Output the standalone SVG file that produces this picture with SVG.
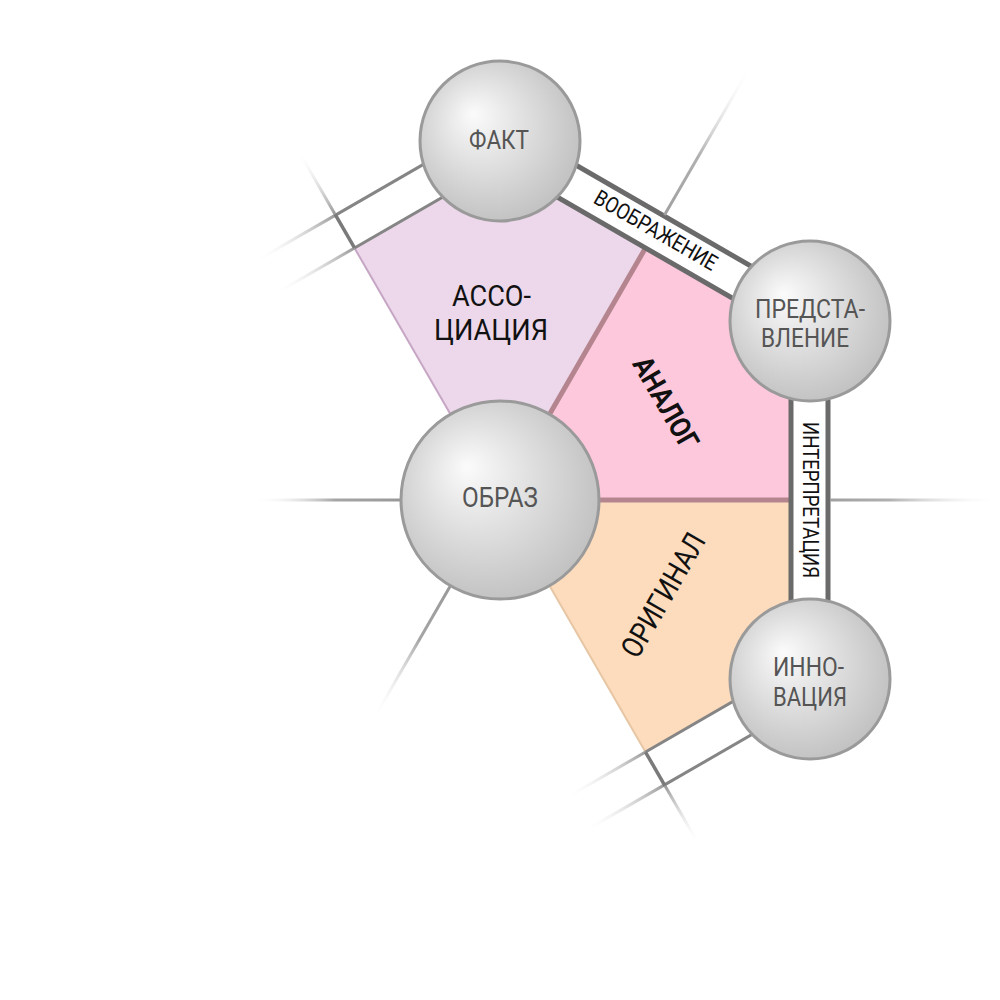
<svg xmlns="http://www.w3.org/2000/svg" width="1000" height="1000" viewBox="0 0 1000 1000">
<style>
  .ball { fill: url(#ball); stroke: #9a9a9a; stroke-width: 3; }
  .nlabel { font-family: Roboto, "Liberation Sans", sans-serif; fill: #555; text-anchor: middle; }
  .slabel { font-family: Roboto, "Liberation Sans", sans-serif; fill: #111; text-anchor: middle; }
  .blabel { font-family: Roboto, "Liberation Sans", sans-serif; fill: #111; text-anchor: middle; font-size: 22px; }
  .dark { stroke: #6a6a6a; stroke-width: 5; }
  .light { stroke: #858585; stroke-width: 3; }
  .ray { stroke-width: 3; fill: none; }
</style>
<defs>
  <radialGradient id="ball" cx="0.45" cy="0.45" r="0.6" fx="0.33" fy="0.33">
    <stop offset="0" stop-color="#fbfbfb"/>
    <stop offset="1" stop-color="#bfbfbf"/>
  </radialGradient>
  <linearGradient id="g0" gradientUnits="userSpaceOnUse" x1="329" y1="0" x2="500" y2="0">
    <stop offset="0" stop-color="#a0a0a0"/><stop offset="0.35" stop-color="#b0b0b0"/><stop offset="1" stop-color="#ffffff" stop-opacity="0"/>
  </linearGradient>
  <linearGradient id="g180" gradientUnits="userSpaceOnUse" x1="100" y1="0" x2="245" y2="0">
    <stop offset="0" stop-color="#999"/><stop offset="0.45" stop-color="#a5a5a5"/><stop offset="1" stop-color="#ffffff" stop-opacity="0"/>
  </linearGradient>
  <linearGradient id="gm60" gradientUnits="userSpaceOnUse" x1="328" y1="0" x2="500" y2="0">
    <stop offset="0" stop-color="#a0a0a0"/><stop offset="0.4" stop-color="#b0b0b0"/><stop offset="1" stop-color="#ffffff" stop-opacity="0"/>
  </linearGradient>
  <linearGradient id="gm120" gradientUnits="userSpaceOnUse" x1="330" y1="0" x2="402" y2="0">
    <stop offset="0" stop-color="#999"/><stop offset="1" stop-color="#ffffff" stop-opacity="0"/>
  </linearGradient>
  <linearGradient id="g120" gradientUnits="userSpaceOnUse" x1="100" y1="0" x2="252" y2="0">
    <stop offset="0" stop-color="#999"/><stop offset="0.4" stop-color="#a5a5a5"/><stop offset="1" stop-color="#ffffff" stop-opacity="0"/>
  </linearGradient>
  <linearGradient id="g60" gradientUnits="userSpaceOnUse" x1="330" y1="0" x2="398" y2="0">
    <stop offset="0" stop-color="#999"/><stop offset="1" stop-color="#ffffff" stop-opacity="0"/>
  </linearGradient>
  <linearGradient id="gcTL" gradientUnits="userSpaceOnUse" x1="0" y1="0" x2="0" y2="-92">
    <stop offset="0" stop-color="#999"/><stop offset="1" stop-color="#ffffff" stop-opacity="0"/>
  </linearGradient>
  <linearGradient id="gcB" gradientUnits="userSpaceOnUse" x1="0" y1="0" x2="0" y2="92">
    <stop offset="0" stop-color="#999"/><stop offset="1" stop-color="#ffffff" stop-opacity="0"/>
  </linearGradient>
</defs>

<g id="sector-association">
  <polygon points="500,500 354.5,248 500,164 645.5,248" fill="#ecd8ea"/>
  <line x1="500" y1="500" x2="354.5" y2="248" stroke="#c6a6c4" stroke-width="2"/>
  <text class="slabel" font-size="30" x="491.5" y="306" textLength="79" lengthAdjust="spacingAndGlyphs">АССО-</text>
  <text class="slabel" font-size="30" x="491" y="340" textLength="114" lengthAdjust="spacingAndGlyphs">ЦИАЦИЯ</text>
</g>
<g id="sector-original">
  <polygon points="500,500 791,500 791,668 645.5,752" fill="#fcdcbc"/>
  <line x1="500" y1="500" x2="645.5" y2="752" stroke="#e6c6a4" stroke-width="2"/>
  <text class="slabel" font-size="30" x="0" y="10.5" textLength="138" lengthAdjust="spacingAndGlyphs" transform="translate(663,595) rotate(-60)">ОРИГИНАЛ</text>
</g>
<g id="sector-analog">
  <polygon points="500,500 645.5,248 791,332 791,500" fill="#fec8dc"/>
  <line x1="500" y1="500" x2="645.5" y2="248" stroke="#b5858f" stroke-width="5"/>
  <line x1="500" y1="500" x2="791" y2="500" stroke="#b5858f" stroke-width="5"/>
  <text class="slabel" font-size="29" font-weight="bold" x="0" y="10" textLength="102" lengthAdjust="spacingAndGlyphs" transform="translate(666,403) rotate(60)">АНАЛОГ</text>
</g>

<g id="connectors">
  <g transform="translate(500,500) rotate(-60)">
    <rect x="291" y="-179" width="37" height="358" fill="#fff"/>
    <line class="dark" x1="291" y1="-179" x2="291" y2="179"/>
    <line class="dark" x1="328" y1="-179" x2="328" y2="179"/>
  </g>
  <g transform="translate(500,500)">
    <rect x="291" y="-179" width="37" height="358" fill="#fff"/>
    <line class="dark" x1="291" y1="-179" x2="291" y2="179"/>
    <line class="dark" x1="328" y1="-179" x2="328" y2="179"/>
  </g>
  <g transform="translate(500,500) rotate(-120)">
    <rect x="291" y="0" width="37" height="179" fill="#fff"/>
    <line class="light" x1="291" y1="0" x2="291" y2="179"/>
    <line class="light" x1="329" y1="0" x2="329" y2="179"/>
    <line class="ray" stroke="url(#gcTL)" x1="291" y1="0" x2="291" y2="-92"/>
    <line class="ray" stroke="url(#gcTL)" x1="329" y1="0" x2="329" y2="-92"/>
    <line x1="291" y1="0" x2="330" y2="0" stroke="#7a7a7a" stroke-width="3.5"/>
  </g>
  <g transform="translate(500,500) rotate(60)">
    <rect x="291" y="-179" width="37" height="179" fill="#fff"/>
    <line class="light" x1="291" y1="-179" x2="291" y2="0"/>
    <line class="light" x1="329" y1="-179" x2="329" y2="0"/>
    <line class="ray" stroke="url(#gcB)" x1="291" y1="0" x2="291" y2="92"/>
    <line class="ray" stroke="url(#gcB)" x1="329" y1="0" x2="329" y2="92"/>
    <line x1="291" y1="0" x2="330" y2="0" stroke="#7a7a7a" stroke-width="3.5"/>
  </g>
  <g transform="translate(500,500)">
    <line class="ray" stroke="url(#g0)" x1="330" y1="0" x2="500" y2="0"/>
    <line class="ray" stroke="url(#g180)" x1="100" y1="0" x2="245" y2="0" transform="rotate(180)"/>
    <line class="ray" stroke="url(#gm60)" x1="329" y1="0" x2="500" y2="0" transform="rotate(-60)"/>
    <line class="ray" stroke="url(#gm120)" x1="330" y1="0" x2="402" y2="0" transform="rotate(-120)"/>
    <line class="ray" stroke="url(#g120)" x1="100" y1="0" x2="252" y2="0" transform="rotate(120)"/>
    <line class="ray" stroke="url(#g60)" x1="330" y1="0" x2="398" y2="0" transform="rotate(60)"/>
  </g>
  <text class="blabel" x="0" y="7.8" textLength="138" lengthAdjust="spacingAndGlyphs" transform="translate(656,230) rotate(30)">ВООБРАЖЕНИЕ</text>
  <text class="blabel" x="0" y="7.8" textLength="156" lengthAdjust="spacingAndGlyphs" transform="translate(811,500) rotate(90)">ИНТЕРПРЕТАЦИЯ</text>
</g>

<g id="node-obraz">
  <circle class="ball" cx="500" cy="500" r="99"/>
  <text class="nlabel" font-size="28" x="500" y="507" textLength="76" lengthAdjust="spacingAndGlyphs">ОБРАЗ</text>
</g>
<g id="node-fakt">
  <circle class="ball" cx="500" cy="141" r="80"/>
  <text class="nlabel" font-size="25" x="499" y="149" textLength="60" lengthAdjust="spacingAndGlyphs">ФАКТ</text>
</g>
<g id="node-predstavlenie">
  <circle class="ball" cx="810" cy="321" r="80"/>
  <text class="nlabel" font-size="26" x="810" y="318" textLength="110" lengthAdjust="spacingAndGlyphs">ПРЕДСТА-</text>
  <text class="nlabel" font-size="26" x="805" y="347" textLength="88" lengthAdjust="spacingAndGlyphs">ВЛЕНИЕ</text>
</g>
<g id="node-innovatsiya">
  <circle class="ball" cx="810" cy="679" r="80"/>
  <text class="nlabel" font-size="26" x="808.5" y="676" textLength="71" lengthAdjust="spacingAndGlyphs">ИННО-</text>
  <text class="nlabel" font-size="26" x="810" y="706" textLength="74" lengthAdjust="spacingAndGlyphs">ВАЦИЯ</text>
</g>
</svg>
